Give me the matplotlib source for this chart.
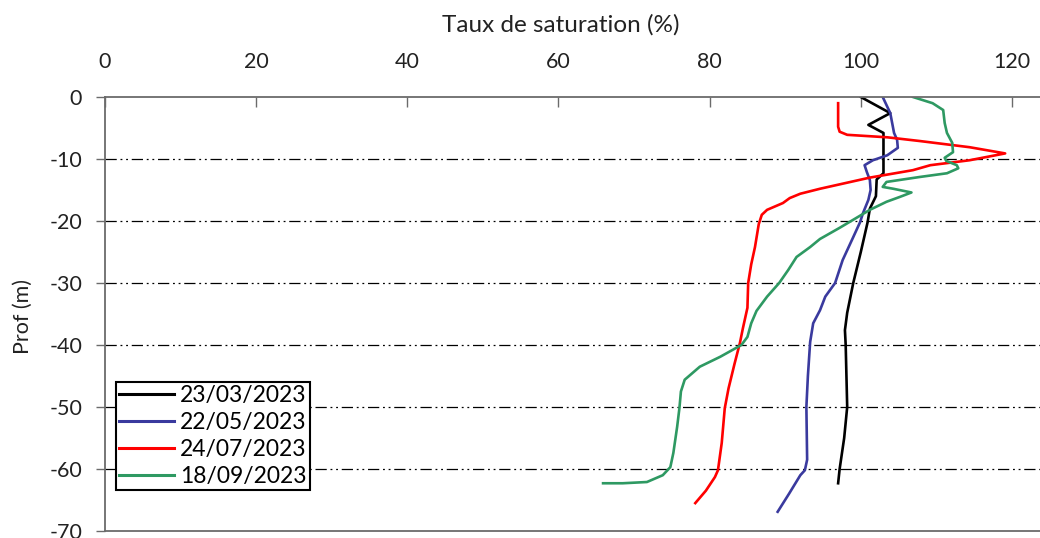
import matplotlib
matplotlib.use("Agg")
import matplotlib.pyplot as plt

plt.rcParams['font.family'] = ['Lato', 'DejaVu Sans']
plt.rcParams['axes.unicode_minus'] = False

# saturation (%) vs depth (m)
sat_0323 = [100, 103.9, 101, 103, 103, 102.1, 102, 101.2, 100.9, 100, 99, 98.2, 97.9, 98, 98.1, 98.2, 97.8, 97.2, 97.0]
prof_0323 = [0, -2.6, -4.5, -5.8, -12.3, -13.3, -16, -18, -20.2, -25, -30, -34.8, -37.6, -40, -45, -50, -55, -60, -62.3]

sat_0522 = [102.9, 103.9, 104.4, 104.8, 104.9, 103.5, 101.6, 100.5, 100.8, 101.2, 101.3, 101, 100.3, 99.9, 99,
            97.6, 96.6, 95.3, 94.6, 93.7, 93.3, 93, 92.8, 92.9, 92.6, 92, 90.5, 89]
prof_0522 = [0, -2.6, -5.8, -6.9, -8.2, -9.4, -10.2, -11, -12.1, -13.4, -15, -16.6, -18.7, -20.2, -22.6,
             -26.3, -30, -32.2, -34.4, -36.5, -39.5, -45, -50, -58.5, -60.2, -61, -64, -66.9]

sat_0724 = [97, 97, 97.2, 98.2, 103.5, 107.8, 114.4, 119.1, 114.4, 109.2, 106.9, 101.2, 94.6, 92, 90.6, 89.7,
            87.6, 86.9, 86.5, 86, 85.5, 85.1, 85, 84.4, 84, 83.3, 82.5, 82, 81.6, 81.1, 80.7, 79.5, 78.1]
prof_0724 = [-1, -4.8, -5.6, -6.1, -6.5, -7.1, -8.1, -9.1, -10.2, -11, -11.8, -13, -14.8, -15.6, -16.3, -17.1,
             -18.2, -19, -20.5, -24.2, -27, -30, -34, -37.3, -39.7, -43, -47, -50.2, -55.8, -60.2, -61.3, -63.5, -65.5]

sat_0918 = [106.9, 109.5, 110.9, 111.1, 111.4, 112.1, 112.2, 111.1, 111.3, 112.7, 112.9, 111.4, 107.8, 103.4,
            102.9, 104.3, 106.7, 105.2, 103.4, 101.2, 99, 97.2, 94.6, 93.3, 91.5, 90.4, 89.2, 87.6, 86.2, 85.5,
            85, 84.2, 81.4, 78.7, 76.7, 76.2, 76, 75.7, 75.2, 74.8, 73.8, 71.7, 68.5, 65.9]
prof_0918 = [0, -1, -2.1, -4.2, -5.8, -7.4, -8.9, -9.8, -10.3, -11, -11.5, -12.3, -12.9, -13.7,
             -14.5, -14.8, -15.4, -16.1, -16.9, -18.2, -19.8, -21.1, -22.9, -24.2, -25.8, -27.9, -30, -32.2, -34.5, -36.5,
             -38.7, -40, -41.9, -43.5, -45.6, -47.5, -50.2, -53.2, -57.4, -59.7, -61, -62.1, -62.3, -62.3]

labels = ['23/03/2023', '22/05/2023', '24/07/2023', '18/09/2023']
colors = ['#000000', '#3a3a9e', '#ff0000', '#2e9962']
x_ticks = [0, 20, 40, 60, 80, 100, 120]
y_ticks = [0, -10, -20, -30, -40, -50, -60, -70]

fig = plt.figure(figsize=(10.4, 5.38), dpi=100)
ax = fig.add_axes([105/1040, 7/538, 935/1040, 434/538])

series = [(sat_0323, prof_0323), (sat_0522, prof_0522), (sat_0724, prof_0724), (sat_0918, prof_0918)]
for (x, y), lab, c in zip(series, labels, colors):
    ax.plot(x, y, color=c, lw=1.9, label=lab, solid_joinstyle='round')

ax.set_xlim(0, 935/7.558)
ax.set_ylim(-70, 0)
ax.set_xticks(x_ticks)
ax.set_yticks(y_ticks)

for yy in y_ticks[1:-1]:
    ax.axhline(yy, color='black', lw=0.9, dashes=(9, 3, 1.5, 3, 1.5, 3), zorder=0)

axis_grey = '#6b6b6b'
ax.xaxis.tick_top()
ax.tick_params(axis='x', direction='in', length=7, width=1, color=axis_grey, pad=18, labelsize=15.5, labelcolor='#222222')
ax.tick_params(axis='y', direction='out', length=6.5, width=1, color=axis_grey, pad=10, labelsize=15.5, labelcolor='#222222')
for s in ['top', 'left', 'bottom']:
    ax.spines[s].set_color(axis_grey)
    ax.spines[s].set_linewidth(1.3)
ax.spines['right'].set_visible(False)

fig.text(561/1040, 1 - 25/538, 'Taux de saturation (%)', ha='center', va='center', fontsize=17.5, color='#222222')
fig.text(23/1040, 1 - 316/538, 'Prof (m)', ha='center', va='center', rotation=90, fontsize=15.5, color='#222222')

leg = ax.legend(loc='upper left', bbox_to_anchor=(11/935, 1 - 285/434), borderaxespad=0,
                fontsize=16.5, frameon=True, fancybox=False, framealpha=1, edgecolor='black',
                handlelength=2.4, handletextpad=0.25, labelspacing=0.25, borderpad=0.15)
leg.get_frame().set_linewidth(1.5)
for line in leg.get_lines():
    line.set_linewidth(2.2)

fig.savefig('out.png', dpi=100)
